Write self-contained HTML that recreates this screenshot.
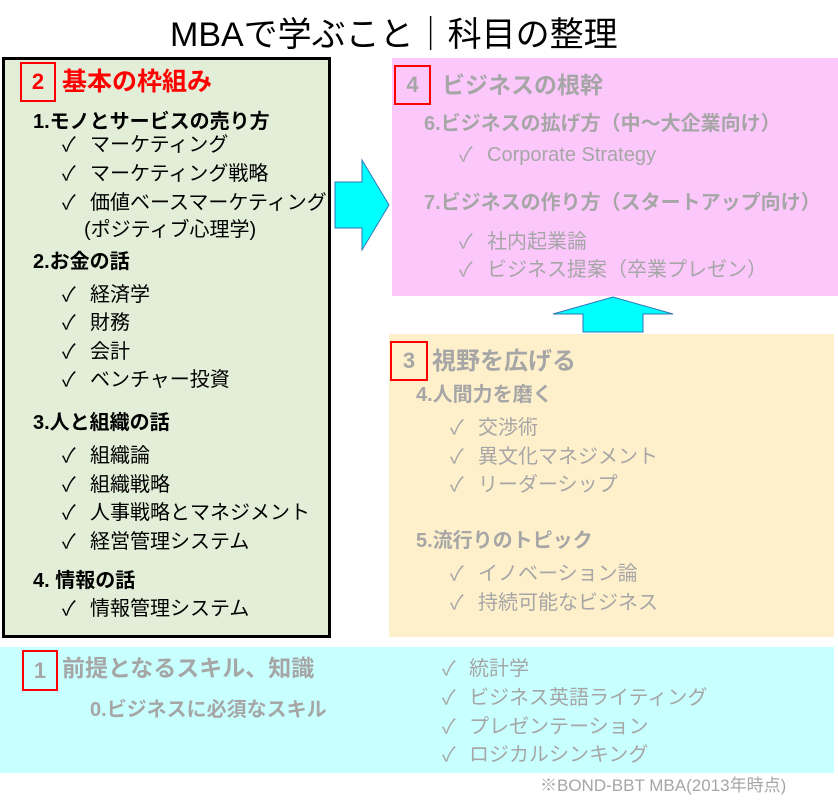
<!DOCTYPE html>
<html><head><meta charset="utf-8"><style>
body{margin:0;width:838px;height:807px;background:#fff;position:relative;overflow:hidden;font-family:"Liberation Sans","Noto Sans CJK JP",sans-serif}
.a{position:absolute;white-space:nowrap;line-height:1}
.h{font-weight:bold;font-size:20px}
.i{font-size:20px}
.g{color:#a6a6a6}
.bx{position:absolute;border:2px solid #f00;box-sizing:border-box;font-weight:bold;font-size:22px;text-align:center}
</style></head><body>
<div class="a" style="left:170px;top:18px;font-size:34px">MBAで学ぶこと｜科目の整理</div>

<div style="position:absolute;left:2px;top:57px;width:329px;height:581px;background:#e3eed8;border:3px solid #000;box-sizing:border-box"></div>
<div style="position:absolute;left:392px;top:58px;width:446px;height:238px;background:#fcc8fc"></div>
<div style="position:absolute;left:389px;top:334px;width:445px;height:303px;background:#fff0cc"></div>
<div style="position:absolute;left:0;top:647px;width:834px;height:126px;background:#c8ffff"></div>

<svg style="position:absolute;left:0;top:0" width="838" height="807">
<polygon points="335,182 362,182 362,160 389,205 362,250 362,228 335,228" fill="#00ffff" stroke="#2e75b6" stroke-width="1"/>
<polygon points="583,332 583,314 553,314 613,297 673,314 643,314 643,332" fill="#00ffff" stroke="#2e75b6" stroke-width="1"/>
</svg>

<div class="bx" style="left:20px;top:62px;width:36px;height:40px;line-height:36px;color:#f00">2</div>
<div class="a" style="left:62px;top:70px;font-size:25px;font-weight:bold;color:#f00">基本の枠組み</div>
<div class="a h" style="left:33px;top:112px">1.モノとサービスの売り方</div>
<div class="a i" style="left:62px;top:135px">✓</div><div class="a i" style="left:90px;top:135px">マーケティング</div>
<div class="a i" style="left:62px;top:164px">✓</div><div class="a i" style="left:90px;top:164px">マーケティング戦略</div>
<div class="a i" style="left:62px;top:193px">✓</div><div class="a i" style="left:90px;top:193px">価値ベースマーケティング</div>
<div class="a i" style="left:84px;top:220px">(ポジティブ心理学)</div>
<div class="a h" style="left:33px;top:252px">2.お金の話</div>
<div class="a i" style="left:62px;top:285px">✓</div><div class="a i" style="left:90px;top:285px">経済学</div>
<div class="a i" style="left:62px;top:313px">✓</div><div class="a i" style="left:90px;top:313px">財務</div>
<div class="a i" style="left:62px;top:342px">✓</div><div class="a i" style="left:90px;top:342px">会計</div>
<div class="a i" style="left:62px;top:370px">✓</div><div class="a i" style="left:90px;top:370px">ベンチャー投資</div>
<div class="a h" style="left:33px;top:413px">3.人と組織の話</div>
<div class="a i" style="left:62px;top:446px">✓</div><div class="a i" style="left:90px;top:446px">組織論</div>
<div class="a i" style="left:62px;top:475px">✓</div><div class="a i" style="left:90px;top:475px">組織戦略</div>
<div class="a i" style="left:62px;top:503px">✓</div><div class="a i" style="left:90px;top:503px">人事戦略とマネジメント</div>
<div class="a i" style="left:62px;top:532px">✓</div><div class="a i" style="left:90px;top:532px">経営管理システム</div>
<div class="a h" style="left:33px;top:571px">4. 情報の話</div>
<div class="a i" style="left:62px;top:599px">✓</div><div class="a i" style="left:90px;top:599px">情報管理システム</div>

<div class="bx g" style="left:394px;top:65px;width:37px;height:40px;line-height:36px">4</div>
<div class="a g" style="left:442px;top:74px;font-size:23px;font-weight:bold">ビジネスの根幹</div>
<div class="a h g" style="left:424px;top:114px">6.ビジネスの拡げ方（中～大企業向け）</div>
<div class="a i g" style="left:459px;top:145px">✓</div><div class="a i g" style="left:487px;top:145px">Corporate Strategy</div>
<div class="a h g" style="left:424px;top:193px">7.ビジネスの作り方（スタートアップ向け）</div>
<div class="a i g" style="left:459px;top:232px">✓</div><div class="a i g" style="left:487px;top:232px">社内起業論</div>
<div class="a i g" style="left:459px;top:260px">✓</div><div class="a i g" style="left:487px;top:260px">ビジネス提案（卒業プレゼン）</div>

<div class="bx g" style="left:390px;top:341px;width:38px;height:40px;line-height:36px">3</div>
<div class="a g" style="left:432px;top:350px;font-size:24px;font-weight:bold">視野を広げる</div>
<div class="a h g" style="left:416px;top:385px">4.人間力を磨く</div>
<div class="a i g" style="left:450px;top:418px">✓</div><div class="a i g" style="left:478px;top:418px">交渉術</div>
<div class="a i g" style="left:450px;top:447px">✓</div><div class="a i g" style="left:478px;top:447px">異文化マネジメント</div>
<div class="a i g" style="left:450px;top:475px">✓</div><div class="a i g" style="left:478px;top:475px">リーダーシップ</div>
<div class="a h g" style="left:416px;top:531px">5.流行りのトピック</div>
<div class="a i g" style="left:450px;top:564px">✓</div><div class="a i g" style="left:478px;top:564px">イノベーション論</div>
<div class="a i g" style="left:450px;top:593px">✓</div><div class="a i g" style="left:478px;top:593px">持続可能なビジネス</div>

<div class="bx g" style="left:22px;top:650px;width:36px;height:41px;line-height:37px">1</div>
<div class="a g" style="left:62px;top:657px;font-size:23px;font-weight:bold">前提となるスキル、知識</div>
<div class="a h g" style="left:90px;top:700px">0.ビジネスに必須なスキル</div>
<div class="a i g" style="left:442px;top:659px">✓</div><div class="a i g" style="left:469px;top:659px">統計学</div>
<div class="a i g" style="left:442px;top:688px">✓</div><div class="a i g" style="left:469px;top:688px">ビジネス英語ライティング</div>
<div class="a i g" style="left:442px;top:717px">✓</div><div class="a i g" style="left:469px;top:717px">プレゼンテーション</div>
<div class="a i g" style="left:442px;top:745px">✓</div><div class="a i g" style="left:469px;top:745px">ロジカルシンキング</div>
<div class="a g" style="left:540px;top:777px;font-size:17px">※BOND-BBT MBA(2013年時点)</div>
</body></html>
